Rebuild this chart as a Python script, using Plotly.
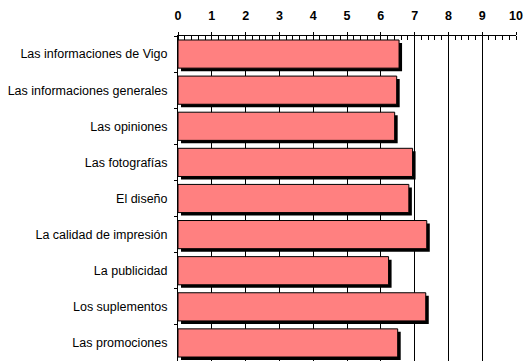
import plotly.graph_objects as go

categories = [
    "Las informaciones de Vigo",
    "Las informaciones generales",
    "Las opiniones",
    "Las fotografías",
    "El diseño",
    "La calidad de impresión",
    "La publicidad",
    "Los suplementos",
    "Las promociones",
]
values = [6.54, 6.47, 6.41, 6.94, 6.83, 7.36, 6.23, 7.33, 6.50]
x_ticks = list(range(0, 11))

BAR_W = 0.78
SH_X = 0.089
SH_Y = 0.083

fig = go.Figure()
fig.add_trace(go.Bar(
    y=categories, x=values, base=[SH_X] * len(values), orientation="h",
    width=BAR_W, offset=-BAR_W / 2 + SH_Y,
    marker=dict(color="black", line=dict(width=0)),
    hoverinfo="skip", showlegend=False,
))
fig.add_trace(go.Bar(
    y=categories, x=values, base=[0] * len(values), orientation="h",
    width=BAR_W, offset=-BAR_W / 2,
    marker=dict(color="#FF8080", line=dict(color="black", width=1)),
    showlegend=False,
))

fig.update_layout(
    width=530, height=364,
    margin=dict(l=178, r=14, t=36, b=3),
    paper_bgcolor="white", plot_bgcolor="white",
    barmode="overlay",
    font=dict(family="Arial, Liberation Sans, sans-serif", size=12, color="black"),
    xaxis=dict(
        side="top", range=[0, 10], tickvals=x_ticks, ticktext=[str(t) for t in x_ticks],
        showgrid=True, gridcolor="black", gridwidth=1,
        showline=True, linecolor="black", linewidth=1,
        ticks="outside", ticklen=3, tickcolor="black",
        tickfont=dict(family="Arial, Liberation Sans, sans-serif", size=12.5, color="black", weight="bold"),
        minor=dict(ticks="inside", dtick=0.2, ticklen=4, tickcolor="black", showgrid=False),
        zeroline=False, fixedrange=True, automargin=False,
        ticklabelstandoff=7,
    ),
    yaxis=dict(
        autorange="reversed", type="category",
        showline=True, linecolor="black", linewidth=1,
        ticks="outside", ticklen=3, tickcolor="black", tickson="boundaries",
        showgrid=False, ticklabelstandoff=7,
        tickfont=dict(family="Arial, Liberation Sans, sans-serif", size=12.5, color="black"),
        fixedrange=True, automargin=False,
    ),
)

fig.write_html(
    "out.html",
    config={"displayModeBar": False},
    post_script="document.body.style.margin='0';document.body.style.padding='0';",
)
